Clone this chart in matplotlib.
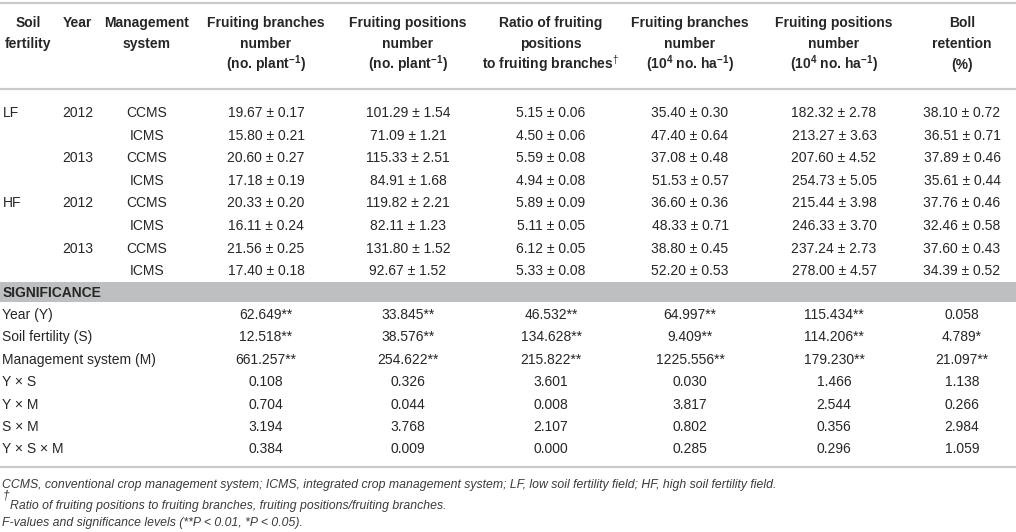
import matplotlib
matplotlib.use("Agg")
import matplotlib.pyplot as plt

plt.rcParams['font.family'] = ['Liberation Sans', 'DejaVu Sans']
plt.rcParams['mathtext.fontset'] = 'custom'
plt.rcParams['mathtext.rm'] = 'Liberation Sans'
plt.rcParams['mathtext.bf'] = 'Liberation Sans:bold'
plt.rcParams['mathtext.it'] = 'Liberation Sans:italic'

# ---------------- data ----------------
soil_fertility = ['LF', '', '', '', 'HF', '', '', '']
years = ['2012', '', '2013', '', '2012', '', '2013', '']
management = ['CCMS', 'ICMS', 'CCMS', 'ICMS', 'CCMS', 'ICMS', 'CCMS', 'ICMS']

fb_plant_mean = [19.67, 15.80, 20.60, 17.18, 20.33, 16.11, 21.56, 17.40]
fb_plant_se = [0.17, 0.21, 0.27, 0.19, 0.20, 0.24, 0.25, 0.18]
fp_plant_mean = [101.29, 71.09, 115.33, 84.91, 119.82, 82.11, 131.80, 92.67]
fp_plant_se = [1.54, 1.21, 2.51, 1.68, 2.21, 1.23, 1.52, 1.52]
ratio_mean = [5.15, 4.50, 5.59, 4.94, 5.89, 5.11, 6.12, 5.33]
ratio_se = [0.06, 0.06, 0.08, 0.08, 0.09, 0.05, 0.05, 0.08]
fb_ha_mean = [35.40, 47.40, 37.08, 51.53, 36.60, 48.33, 38.80, 52.20]
fb_ha_se = [0.30, 0.64, 0.48, 0.57, 0.36, 0.71, 0.45, 0.53]
fp_ha_mean = [182.32, 213.27, 207.60, 254.73, 215.44, 246.33, 237.24, 278.00]
fp_ha_se = [2.78, 3.63, 4.52, 5.05, 3.98, 3.70, 2.73, 4.57]
boll_mean = [38.10, 36.51, 37.89, 35.61, 37.76, 32.46, 37.60, 34.39]
boll_se = [0.72, 0.71, 0.46, 0.44, 0.46, 0.58, 0.43, 0.52]

sources = ['Year (Y)', 'Soil fertility (S)', 'Management system (M)',
           'Y \u00d7 S', 'Y \u00d7 M', 'S \u00d7 M', 'Y \u00d7 S \u00d7 M']
f_fb_plant = [62.649, 12.518, 661.257, 0.108, 0.704, 3.194, 0.384]
s_fb_plant = ['**', '**', '**', '', '', '', '']
f_fp_plant = [33.845, 38.576, 254.622, 0.326, 0.044, 3.768, 0.009]
s_fp_plant = ['**', '**', '**', '', '', '', '']
f_ratio = [46.532, 134.628, 215.822, 3.601, 0.008, 2.107, 0.000]
s_ratio = ['**', '**', '**', '', '', '', '']
f_fb_ha = [64.997, 9.409, 1225.556, 0.030, 3.817, 0.802, 0.285]
s_fb_ha = ['**', '**', '**', '', '', '', '']
f_fp_ha = [115.434, 114.206, 179.230, 1.466, 2.544, 0.356, 0.296]
s_fp_ha = ['**', '**', '**', '', '', '', '']
f_boll = [0.058, 4.789, 21.097, 1.138, 0.266, 2.984, 1.059]
s_boll = ['', '*', '**', '', '', '', '']

headers = [
    ['Soil', 'fertility', ''],
    ['Year', '', ''],
    ['Management', 'system', ''],
    ['Fruiting branches', 'number', r'(no. plant$^{\mathbf{-1}}$)'],
    ['Fruiting positions', 'number', r'(no. plant$^{\mathbf{-1}}$)'],
    ['Ratio of fruiting', 'positions', r'to fruiting branches$^{\mathit{\dagger}}$'],
    ['Fruiting branches', 'number', r'(10$^{\mathbf{4}}$ no. ha$^{\mathbf{-1}}$)'],
    ['Fruiting positions', 'number', r'(10$^{\mathbf{4}}$ no. ha$^{\mathbf{-1}}$)'],
    ['Boll', 'retention', '(%)'],
]

footnotes = [
    'CCMS, conventional crop management system; ICMS, integrated crop management system; '
    'LF, low soil fertility field; HF, high soil fertility field.',
    'Ratio of fruiting positions to fruiting branches, fruiting positions/fruiting branches.',
    'F-values and significance levels (**P < 0.01, *P < 0.05).',
]

# ---------------- layout ----------------
W, H = 1016, 532
fig = plt.figure(figsize=(W / 100, H / 100), dpi=100)
ax = fig.add_axes([0, 0, 1, 1])
ax.set_xlim(0, W)
ax.set_ylim(H, 0)
ax.axis('off')

TXT = '#262626'
RULE = '#c9c9c9'
FS = 10

col_x = [28, 77, 147, 266, 408, 551, 690, 834, 962]
head_y = [22, 43, 64]
row_y0, row_dy = 112, 22.6
sig_y0, sig_dy = 314, 22.4
band_top, band_bot = 282, 302

def put(x, yc, s, ha='center', **kw):
    ax.text(x, yc + 5, s, ha=ha, va='baseline', fontsize=kw.pop('fontsize', FS),
            color=kw.pop('color', TXT), **kw)

# rules
for yy in (3, 89, 467):
    ax.plot([0, W], [yy, yy], color=RULE, lw=1.6, solid_capstyle='butt')

# header
for j, lines in enumerate(headers):
    for k, s in enumerate(lines):
        if s:
            put(col_x[j], head_y[k], s, fontweight='bold')

# body
mean_cols = [(fb_plant_mean, fb_plant_se), (fp_plant_mean, fp_plant_se),
             (ratio_mean, ratio_se), (fb_ha_mean, fb_ha_se),
             (fp_ha_mean, fp_ha_se), (boll_mean, boll_se)]
for i in range(len(management)):
    y = row_y0 + i * row_dy
    if soil_fertility[i]:
        put(3, y, soil_fertility[i], ha='left')
    if years[i]:
        put(col_x[1] + 1, y, years[i])
    put(col_x[2], y, management[i])
    for j, (m, s) in enumerate(mean_cols):
        put(col_x[3 + j], y, f'{m[i]:.2f} \u00b1 {s[i]:.2f}')

# significance band
ax.fill_between([0, W], band_top, band_bot, color='#bebfc1', lw=0)
put(3, (band_top + band_bot) / 2, 'SIGNIFICANCE', ha='left', fontweight='bold')

f_cols = [(f_fb_plant, s_fb_plant), (f_fp_plant, s_fp_plant), (f_ratio, s_ratio),
          (f_fb_ha, s_fb_ha), (f_fp_ha, s_fp_ha), (f_boll, s_boll)]
for i, src in enumerate(sources):
    y = sig_y0 + i * sig_dy
    put(2, y, src, ha='left')
    for j, (fv, sv) in enumerate(f_cols):
        put(col_x[3 + j], y, f'{fv[i]:.3f}{sv[i]}')

# footnotes
FN = '#3a3a3a'
FFS = 8.8
put(2, 483, footnotes[0], ha='left', fontsize=FFS, style='italic', color=FN)
ax.text(3, 499, '\u2020', ha='left', va='baseline', fontsize=8.5, style='italic', color=FN)
put(10, 504, footnotes[1], ha='left', fontsize=FFS, style='italic', color=FN)
put(2, 521, footnotes[2], ha='left', fontsize=FFS, style='italic', color=FN)

fig.savefig('out.png', dpi=100)
